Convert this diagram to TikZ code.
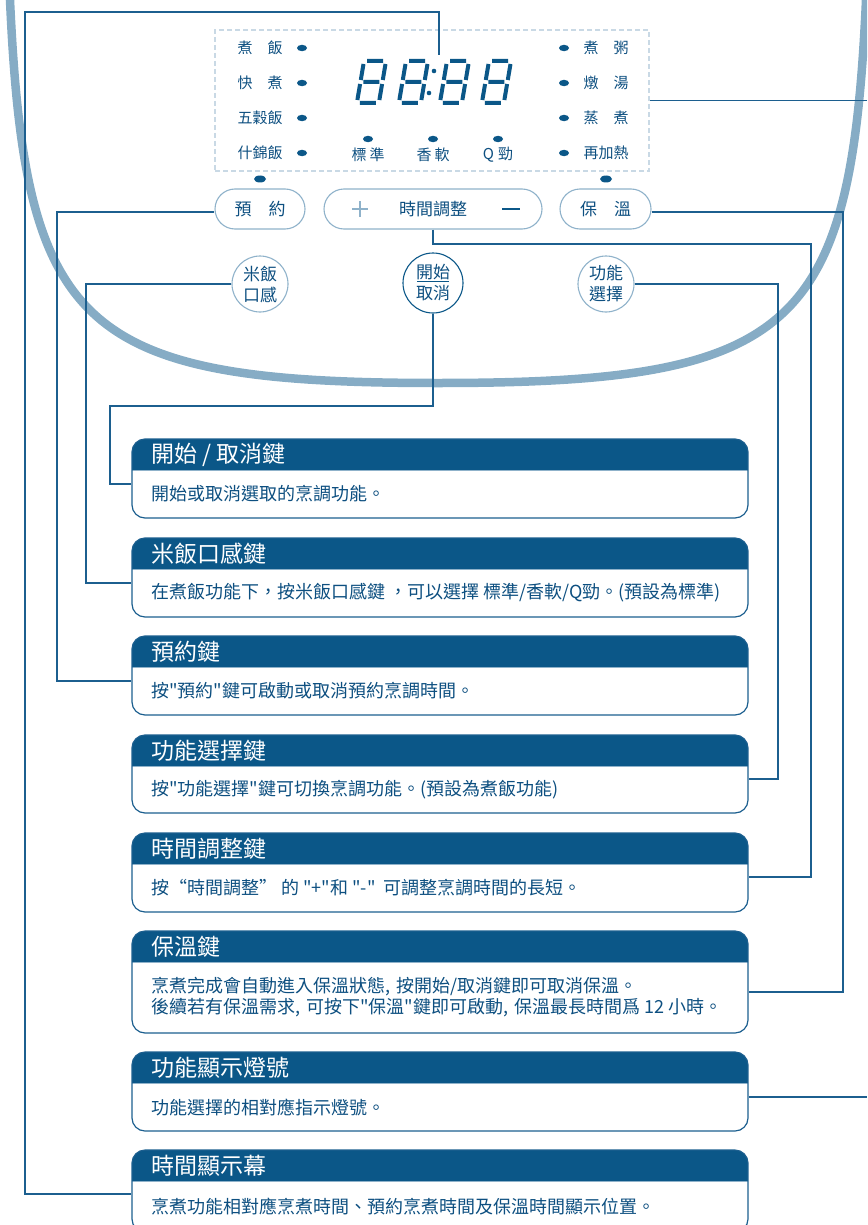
\documentclass[tikz,border=0pt]{standalone}
\usepackage{fontspec}
\setmainfont{Noto Sans CJK TC}[Ligatures=TeXOff]
\usetikzlibrary{calc}
\definecolor{hdr}{HTML}{0B5788}
\definecolor{ln}{HTML}{1C5F8F}
\definecolor{pot}{HTML}{86ACC5}
\definecolor{lbord}{HTML}{8FB2CA}
\definecolor{dashc}{HTML}{C9D9E5}
\definecolor{txt}{HTML}{0D4F80}
\newcommand{\infobox}[5]{%
  \begin{scope}
    \clip[rounded corners=13pt] (132,#2) rectangle (748,#3);
    \fill[hdr] (132,#2) rectangle (748,#2+31);
    \draw[lbord, line width=1pt] (132,#2+31.5) -- (748,#2+31.5);
  \end{scope}
  \node[ibox, minimum height=#3-#2] (#1) at (440,{(#2+#3)/2}) {};
  \node[htxt] (#1h) at (151,#2+16) {#4};
  \node[btxt] (#1b) at (151,{(#2+31+#3)/2}) {#5};
}
\newcommand{\segd}[2]{%
  \begin{scope}[shift={(#1,#2)}, xslant=0.17]
    \draw[seg] (3,0)--(19,0) (22,3)--(22,19) (22,23)--(22,39) (3,42)--(19,42)
      (0,23)--(0,39) (0,3)--(0,19) (3,21)--(19,21);
  \end{scope}}
\newcommand{\cm}{,\hspace{6pt}}
\begin{document}
\begin{tikzpicture}[x=1pt,y=-1pt,
  conn/.style={draw=ln, line width=1.3pt},
  seg/.style={draw=hdr, line width=4pt, line cap=butt},
  lbl/.style={text=txt, inner sep=0, font=\fontsize{15}{18}\selectfont},
  btn/.style={draw=lbord, line width=1.1pt, rounded corners=20pt, minimum height=40pt, text=txt, font=\fontsize{17}{20}\selectfont},
  circ/.style={circle, draw=lbord, line width=1.1pt, minimum size=56pt, inner sep=0, align=center, text=txt, font=\fontsize{17}{21}\selectfont},
  ibox/.style={draw=ln, line width=1.2pt, rounded corners=13pt, minimum width=616pt, inner sep=0},
  htxt/.style={anchor=west, text=white, inner sep=0, font=\fontsize{23}{26}\selectfont},
  btxt/.style={anchor=west, text=txt, inner sep=0, align=left, font=\fontsize{18}{21}\selectfont},
  led/.style={fill=hdr}]
\useasboundingbox (0,0) rectangle (867,1225);
\clip (0,0) rectangle (867,1225);
% pot outline
\draw[pot, line width=8.5pt] (9,-10) -- (10,0) .. controls (25,330) and (80,383) .. (438,383)
   .. controls (796,383) and (851,330) .. (866,0) -- (867,-10);
% display
\node[draw=dashc, line width=1.5pt, dash pattern=on 5pt off 3pt, minimum width=434pt, minimum height=141pt, inner sep=0] (disp) at (432,100.5) {};
\segd{364}{61}\segd{406}{61}\segd{447}{61}\segd{489}{61}
\fill[hdr] (434,71) circle (2.3) (429,93) circle (2.3);
\coordinate (dtop) at (439,55);
% labels
\node[lbl] (l1) at (260,48) {煮　飯};
\node[lbl] (l2) at (260,83) {快　煮};
\node[lbl] (l3) at (260,118) {五穀飯};
\node[lbl] (l4) at (260,153) {什錦飯};
\node[lbl] (r1) at (606,48) {煮　粥};
\node[lbl] (r2) at (606,83) {燉　湯};
\node[lbl] (r3) at (606,118) {蒸　煮};
\node[lbl] (r4) at (606,153) {再加熱};
\node[lbl] (m1) at (368,155) {標\hspace{3pt}準};
\node[lbl] (m2) at (433,155) {香\hspace{3pt}軟};
\node[lbl] (m3) at (498,155) {Q\hspace{4pt}勁};
\foreach \y in {48,83,118,153}{
  \fill[led] (302,\y) ellipse [x radius=5, y radius=3.2];
  \fill[led] (564,\y) ellipse [x radius=5, y radius=3.2];}
\foreach \x in {368,433,498}{\fill[led] (\x,139) ellipse [x radius=5, y radius=3.2];}
\fill[led] (260,179) ellipse [x radius=6, y radius=3.5];
\fill[led] (606,179) ellipse [x radius=6, y radius=3.5];
% buttons
\node[btn, minimum width=90pt] (yy) at (260,209) {預　約};
\node[btn, minimum width=218pt] (sj) at (433,209) {時間調整};
\node[btn, minimum width=91pt] (bw) at (605.5,209) {保　溫};
\draw[lbord, line width=1.2pt] (352,209) -- (368,209) (360,201) -- (360,217);
\draw[hdr, line width=1.3pt] (502,209) -- (520,209);
% circles
\node[circ] (mf) at (260,284) {米飯\\口感};
\node[circ, draw=hdr, minimum size=60pt] (ks) at (433,283) {開始\\取消};
\draw[hdr, line width=0.9pt] (417,281.5) -- (449,281.5);
\node[circ] (gn) at (606,284) {功能\\選擇};
% info boxes
\infobox{b1}{439}{518}{開始 / 取消鍵}{開始或取消選取的烹調功能。}
\infobox{b2}{538}{617}{米飯口感鍵}{在煮飯功能下，按米飯口感鍵 ，可以選擇 標準/香軟/Q勁。(預設為標準)}
\infobox{b3}{636}{715}{預約鍵}{按"預約"鍵可啟動或取消預約烹調時間。}
\infobox{b4}{735}{813}{功能選擇鍵}{按"功能選擇"鍵可切換烹調功能。(預設為煮飯功能)}
\infobox{b5}{833}{912}{時間調整鍵}{按“時間調整” 的 "+"和 "-"\ \ 可調整烹調時間的長短。}
\infobox{b6}{931}{1033}{保溫鍵}{烹煮完成會自動進入保溫狀態\cm 按開始/取消鍵即可取消保溫。\\後續若有保溫需求\cm 可按下"保溫"鍵即可啟動\cm 保溫最長時間爲 12 小時。}
\infobox{b7}{1052}{1131}{功能顯示燈號}{功能選擇的相對應指示燈號。}
\infobox{b8}{1150}{1232}{時間顯示幕}{烹煮功能相對應烹煮時間、預約烹煮時間及保溫時間顯示位置。}
% connectors
\coordinate (edgeA) at (867,100.5);
\coordinate (edgeB) at (867,1097);
\draw[conn] (dtop) |- (25,12) -- (25,1194) -- ([yshift=-3pt]b8.west);
\draw[conn] ([yshift=-3pt]yy.west) -| (57,681) -- ([yshift=-5.5pt]b3.west);
\draw[conn] (mf.west) -| (86,583) -- ([yshift=-5.5pt]b2.west);
\draw[conn] (ks.south) |- (110,406) -- (110,484) -- ([yshift=-5.5pt]b1.west);
\draw[conn] (gn.east) -| (778,779) -- ([yshift=-5pt]b4.east);
\draw[conn] (sj.south) |- (811,244) -- (811,877) -- ([yshift=-4.5pt]b5.east);
\draw[conn] ([yshift=-3pt]bw.east) -| (843,992) -- ([yshift=-10pt]b6.east);
\draw[conn] (disp.east) -- (edgeA);
\draw[conn] ([yshift=-5.5pt]b7.east) -- (edgeB);
\end{tikzpicture}
\end{document}
